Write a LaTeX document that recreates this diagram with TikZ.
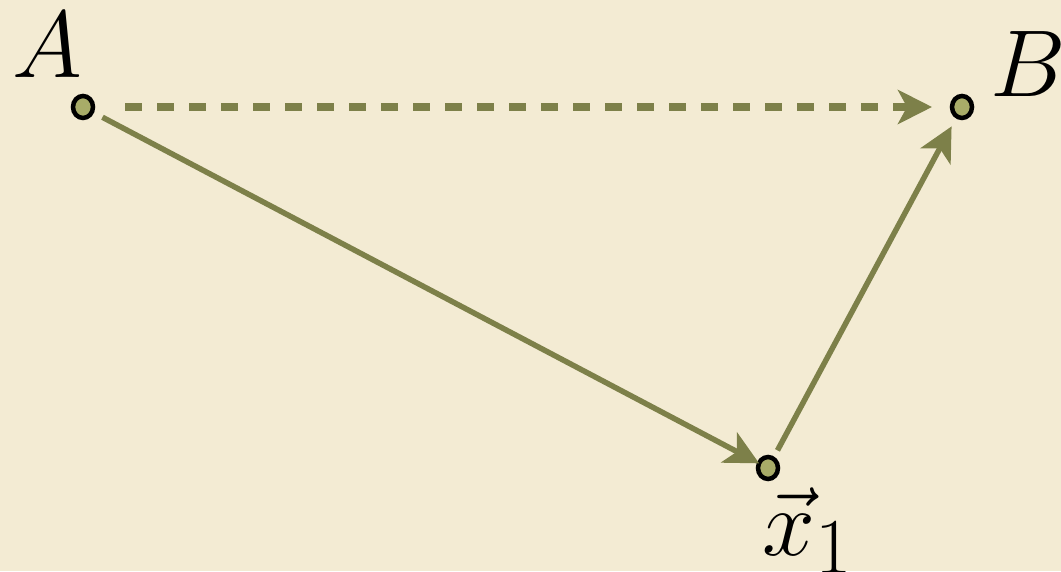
\documentclass[tikz,border=0pt]{standalone}
\usepackage{graphicx}
\usetikzlibrary{arrows.meta,shapes.geometric}
\definecolor{bg}{HTML}{F3EBD3}
\definecolor{olive}{HTML}{7D8049}
\definecolor{dotfill}{HTML}{A8AC68}
\newcommand{\biglbl}[1]{\scalebox{3.82}{\Huge #1}}
\begin{document}
\begin{tikzpicture}[x=1pt,y=1pt,
  pt/.style={ellipse,draw=black,line width=4.5pt,fill=dotfill,minimum width=20pt,minimum height=22pt,inner sep=0pt},
  lbl/.style={inner sep=0pt},
  conn/.style={draw=olive,line width=5.5pt,-{Stealth[length=34pt,width=34pt,inset=9pt]}},
  dconn/.style={conn,line width=8pt,dash pattern=on 17pt off 15pt}]
\fill[bg] (0,0) rectangle (1061,571);
\useasboundingbox (0,0) rectangle (1061,571);
\node[pt] (A) at (83,464) {};
\node[pt] (B) at (962,464) {};
\node[pt] (X) at (768,103) {};
\node[lbl,anchor=base west] (la) at (12,493) {\biglbl{$A$}};
\node[lbl,anchor=base west] (lb) at (990,474) {\biglbl{$B$}};
\node[lbl,anchor=base west] (lx) at (762,16) {\biglbl{$\vec{x}_1$}};
\draw[dconn,shorten <=42pt,shorten >=30pt] (A.center) -- (B.center);
\draw[conn,shorten <=22pt,shorten >=10pt] (A.center) -- (X.center);
\draw[conn,shorten <=20pt,shorten >=22pt] (X.center) -- (B.center);
\end{tikzpicture}
\end{document}
